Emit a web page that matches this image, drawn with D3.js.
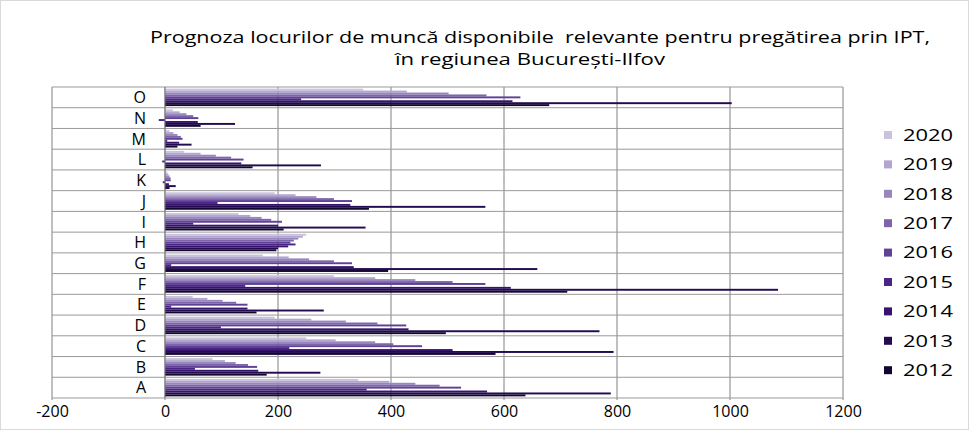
<!DOCTYPE html>
<html><head><meta charset="utf-8">
<script src="https://cdn.jsdelivr.net/npm/d3@7/dist/d3.min.js"></script>
<style>
html,body{margin:0;padding:0;background:#fff;}
svg{display:block;font-family:"Open Sans",sans-serif;}
</style></head>
<body><svg id="chart" width="969" height="430"></svg>
<script>
// Categories listed bottom to top
const categories = ["A","B","C","D","E","F","G","H","I","J","K","L","M","N","O"];
// Series (years) in legend order, top to bottom
const years = ["2020","2019","2018","2017","2016","2015","2014","2013","2012"];
const colors = ["#cbc3de","#b2a5cf","#9886bd","#7d65aa","#5f4196","#4a2585","#36146d","#240b50","#130632"];
const v2020 = [342,84,250,194,49,299,173,250,130,194,4,34,8,14,351];
const v2019 = [397,106,302,259,75,372,219,244,151,231,6,63,15,26,428];
const v2018 = [443,125,372,320,102,443,255,236,171,268,8,90,22,38,502];
const v2017 = [486,147,404,376,126,509,299,228,188,299,10,117,28,50,569];
const v2016 = [524,163,455,427,146,567,331,222,207,331,10,139,31,59,629];
const v2015 = [357,53,220,99,11,142,11,231,50,93,-4,-5,4,-11,241];
const v2014 = [570,165,509,431,146,612,334,218,200,328,7,135,25,58,615];
const v2013 = [789,275,794,769,281,1085,659,200,355,567,19,276,47,124,1003];
const v2012 = [638,180,585,497,162,712,395,197,210,361,8,155,22,63,680];
const seriesValues = [v2020,v2019,v2018,v2017,v2016,v2015,v2014,v2013,v2012];
const xTicks = [-200,0,200,400,600,800,1000,1200];
const titleLines = ["Prognoza locurilor de muncă disponibile  relevante pentru pregătirea prin IPT,","în regiunea București-Ilfov"];

const svg = d3.select("#chart");
const W = 969, H = 430;
const plot = {left:52, right:843, top:87, bottom:398};

svg.append("rect").attr("x",0.5).attr("y",0.5).attr("width",W-1).attr("height",H-1)
  .attr("fill","#fff").attr("stroke","#d9d9d9");

// Title
svg.append("text").attr("x",540).attr("y",43).attr("text-anchor","middle")
  .attr("font-size",17).attr("fill","#000").style("white-space","pre")
  .attr("textLength",780).attr("lengthAdjust","spacingAndGlyphs").text(titleLines[0]);
svg.append("text").attr("x",530).attr("y",65).attr("text-anchor","middle")
  .attr("font-size",17).attr("fill","#000")
  .attr("textLength",270).attr("lengthAdjust","spacingAndGlyphs").text(titleLines[1]);

const x = d3.scaleLinear().domain([-200,1200]).range([plot.left, plot.right]);
const y = d3.scaleBand().domain(categories.slice().reverse()).range([plot.top, plot.bottom]).padding(0);
const yInner = d3.scaleBand().domain(years).range([0, y.bandwidth()]).paddingInner(0).paddingOuter(0.85);

// vertical gridlines
svg.append("g").selectAll("line").data(xTicks).join("line")
  .attr("x1",d=>x(d)).attr("x2",d=>x(d)).attr("y1",plot.top).attr("y2",plot.bottom+2)
  .attr("stroke","#808080").attr("stroke-width",1);
// horizontal category separators
const bounds = categories.map(c=>y(c)).concat([plot.bottom]);
svg.append("g").selectAll("line").data(bounds).join("line")
  .attr("x1",plot.left).attr("x2",plot.right).attr("y1",d=>d).attr("y2",d=>d)
  .attr("stroke","#999").attr("stroke-width",1);

// bars
const data = [];
categories.forEach((c,i)=>{
  years.forEach((yr,j)=>{ data.push({cat:c, year:yr, value:seriesValues[j][i], color:colors[j]}); });
});
svg.append("g").selectAll("rect").data(data).join("rect")
  .attr("x",d=>x(Math.min(0,d.value)))
  .attr("width",d=>Math.abs(x(d.value)-x(0)))
  .attr("y",d=>y(d.cat)+yInner(d.year))
  .attr("height",yInner.bandwidth())
  .attr("fill",d=>d.color);

// zero axis line
svg.append("line").attr("x1",x(0)).attr("x2",x(0)).attr("y1",plot.top).attr("y2",plot.bottom)
  .attr("stroke","#7a7a7a");

// category labels
svg.append("g").selectAll("text").data(categories).join("text")
  .attr("x",146).attr("y",d=>y(d)+y.bandwidth()/2).attr("dy","0.36em")
  .attr("text-anchor","end").attr("font-size",16).attr("fill","#000").text(d=>d);

// x axis labels
const xAxis = d3.axisBottom(x).tickValues(xTicks).tickSize(0).tickPadding(7).tickFormat(d=>String(d));
const gx = svg.append("g").attr("transform",`translate(0,${plot.bottom+1})`).call(xAxis);
gx.select(".domain").remove();
gx.selectAll("text").attr("font-size",16).attr("font-family","'Open Sans',sans-serif").attr("fill","#000");

// legend
const lg = svg.append("g").selectAll("g").data(years).join("g")
  .attr("transform",(d,i)=>`translate(884,${135+i*29.4})`);
lg.append("rect").attr("x",0).attr("y",-4).attr("width",8).attr("height",8).attr("fill",(d,i)=>colors[i]);
lg.append("text").attr("x",19).attr("y",0).attr("dy","0.36em").attr("font-size",16).attr("fill","#000")
  .attr("textLength",50).attr("lengthAdjust","spacingAndGlyphs").text(d=>d);
</script>
</body></html>
